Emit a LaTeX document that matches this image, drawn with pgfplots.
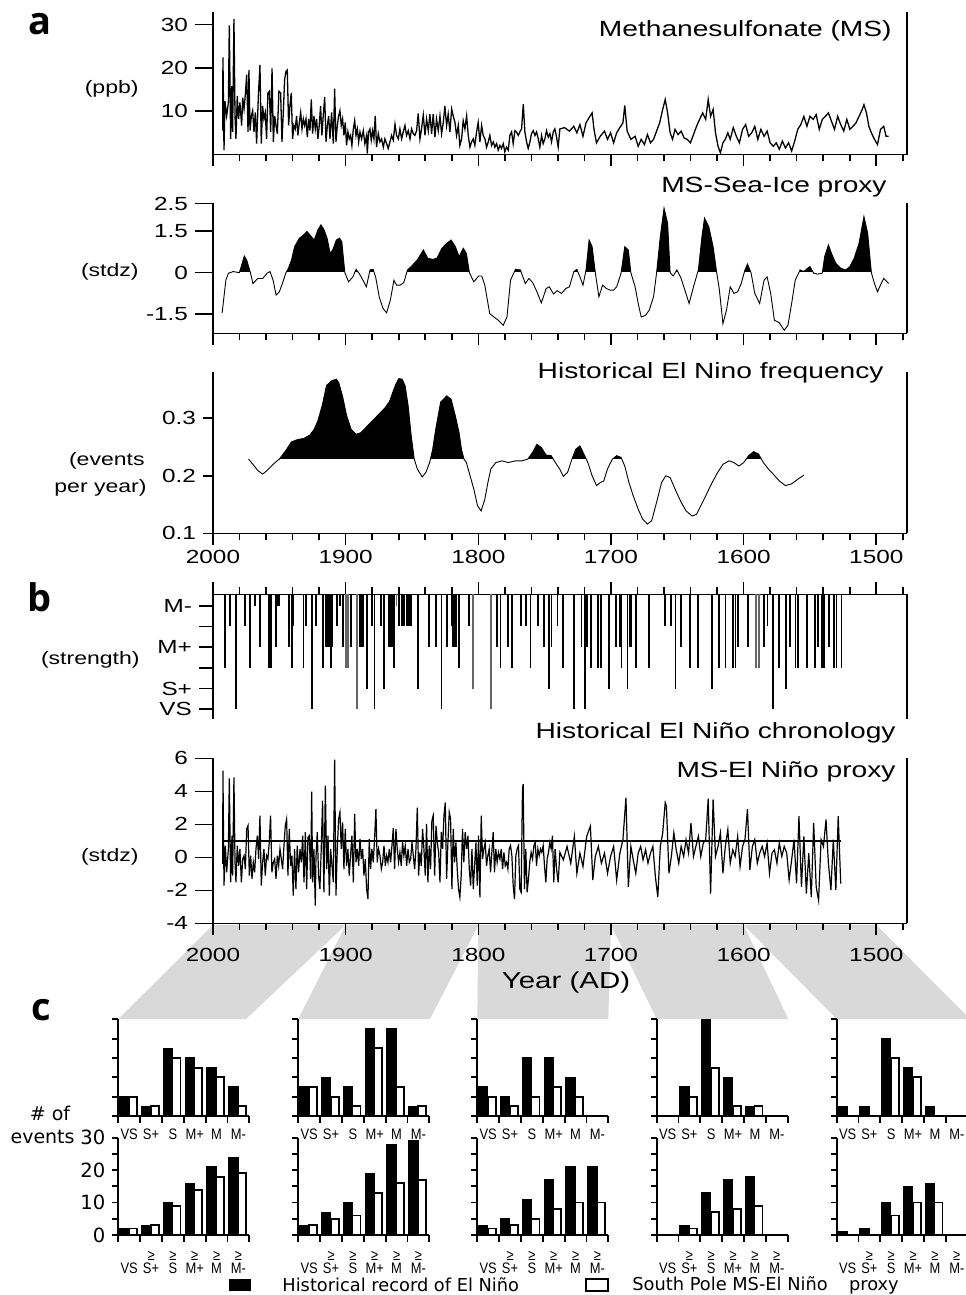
\documentclass[border=0pt]{standalone}
\usepackage{pgfplots}
\usepackage{pgfplotstable}
\pgfplotsset{compat=1.18}
\usepackage{fontspec}
\setmainfont{Liberation Sans}[FakeStretch=1.28]
\newfontfamily\narrowfont{Liberation Sans}[FakeStretch=0.85]
\newfontfamily\cfont{DejaVu Sans}
\newfontfamily\letterfont{Open Sans}

% MS sea-ice proxy (stdz)
\pgfplotstableread[row sep=\\]{
year v\\
1993.1 -1.45\\ 1990.3 -0.27\\ 1988.4 -0.02\\ 1984.7 0.04\\ 1980.1 0.00\\ 1976.4 0.60\\ 1974.6 0.46\\ 1971.8 0.00\\
1969.9 -0.39\\ 1966.2 -0.21\\ 1962.5 -0.21\\ 1959.3 -0.02\\ 1957.0 0.04\\ 1954.7 -0.27\\ 1952.4 -0.81\\ 1950.0 -0.69\\
1947.7 -0.39\\ 1945.0 0.00\\ 1943.1 0.16\\ 1940.8 0.46\\ 1938.5 0.94\\ 1934.8 1.25\\ 1931.5 1.37\\ 1929.2 1.49\\
1926.0 1.31\\ 1923.7 1.18\\ 1920.9 1.55\\ 1918.6 1.73\\ 1916.3 1.55\\ 1914.0 1.25\\ 1911.7 0.70\\ 1909.8 0.82\\
1907.0 1.18\\ 1904.7 1.25\\ 1902.9 1.12\\ 1900.6 0.00\\ 1897.8 -0.33\\ 1894.5 -0.15\\ 1892.2 0.12\\ 1889.9 -0.02\\
1887.6 -0.21\\ 1884.4 -0.51\\ 1881.6 0.10\\ 1879.3 0.12\\ 1877.4 -0.15\\ 1874.7 -0.87\\ 1871.9 -1.29\\ 1869.1 -1.45\\
1866.3 -0.99\\ 1863.6 -0.27\\ 1861.7 -0.45\\ 1858.9 -0.45\\ 1856.2 -0.36\\ 1853.4 0.10\\ 1850.6 0.22\\ 1846.0 0.46\\
1841.4 0.82\\ 1838.1 0.52\\ 1834.4 0.48\\ 1831.2 0.52\\ 1827.5 0.88\\ 1823.8 1.06\\ 1820.5 1.18\\ 1817.3 0.94\\
1814.5 0.58\\ 1811.3 0.88\\ 1809.0 0.70\\ 1806.7 0.00\\ 1803.4 -0.33\\ 1799.7 -0.12\\ 1797.4 -0.12\\ 1795.1 -0.45\\
1791.4 -1.48\\ 1788.2 -1.60\\ 1784.9 -1.72\\ 1781.2 -1.90\\ 1778.4 -1.60\\ 1775.7 -0.27\\ 1772.0 0.12\\ 1768.3 0.10\\
1764.6 -0.39\\ 1761.8 -0.21\\ 1759.0 -0.36\\ 1755.8 -0.69\\ 1752.5 -1.09\\ 1748.8 -0.57\\ 1746.5 -0.51\\ 1743.3 -0.77\\
1740.5 -0.65\\ 1737.3 -0.75\\ 1734.0 -0.57\\ 1731.3 -0.51\\ 1728.0 0.04\\ 1725.7 0.12\\ 1723.4 -0.15\\ 1721.1 -0.45\\
1718.8 0.10\\ 1716.5 1.18\\ 1714.2 0.94\\ 1711.8 0.00\\ 1709.1 -0.87\\ 1706.3 -0.45\\ 1703.5 -0.57\\ 1700.7 -0.63\\
1698.0 -0.63\\ 1695.7 -0.51\\ 1692.4 -0.02\\ 1689.6 0.94\\ 1686.9 0.82\\ 1685.0 0.00\\ 1681.8 -0.51\\ 1679.5 -1.11\\
1677.2 -1.60\\ 1673.9 -1.54\\ 1671.1 -1.35\\ 1667.9 -0.87\\ 1665.6 0.00\\ 1662.8 1.31\\ 1660.0 2.33\\ 1657.3 1.79\\
1655.4 0.00\\ 1653.1 -0.12\\ 1650.3 0.10\\ 1647.1 -0.21\\ 1644.3 -0.63\\ 1641.1 -1.11\\ 1637.8 -0.51\\ 1634.1 0.10\\
1631.4 1.31\\ 1629.5 1.97\\ 1626.3 1.67\\ 1623.0 0.94\\ 1620.3 0.00\\ 1618.4 -0.57\\ 1615.6 -1.84\\ 1612.9 -1.35\\
1610.1 -0.51\\ 1607.3 -0.75\\ 1604.5 -0.69\\ 1601.8 -0.39\\ 1599.0 0.10\\ 1597.1 0.31\\ 1594.4 0.00\\ 1591.6 -0.75\\
1587.9 -1.11\\ 1584.6 -0.27\\ 1582.3 -0.15\\ 1579.6 -0.75\\ 1576.8 -1.72\\ 1573.1 -1.81\\ 1569.4 -2.08\\ 1566.6 -1.90\\
1563.8 -1.11\\ 1561.1 -0.27\\ 1557.4 0.10\\ 1554.6 0.04\\ 1551.8 0.16\\ 1550.0 0.22\\ 1547.2 -0.02\\ 1544.4 -0.05\\
1540.7 -0.02\\ 1538.9 0.58\\ 1536.1 1.00\\ 1533.3 0.64\\ 1530.5 0.34\\ 1526.8 0.16\\ 1523.1 0.10\\ 1519.9 0.22\\
1516.7 0.52\\ 1513.0 1.06\\ 1509.3 2.03\\ 1506.5 1.43\\ 1503.7 0.00\\ 1501.4 -0.39\\ 1499.1 -0.69\\ 1496.3 -0.39\\
1494.4 -0.21\\ 1490.7 -0.39\\
}\icedata

% historical El Nino frequency (events per year)
\pgfplotstableread[row sep=\\]{
year v\\
1973.2 0.229\\ 1969.9 0.220\\ 1966.2 0.209\\ 1962.5 0.203\\ 1959.3 0.209\\ 1954.7 0.220\\ 1950.0 0.229\\ 1945.4 0.243\\
1940.8 0.259\\ 1936.2 0.263\\ 1931.5 0.265\\ 1926.9 0.271\\ 1923.7 0.281\\ 1920.9 0.296\\ 1917.7 0.322\\ 1914.4 0.357\\
1910.7 0.365\\ 1907.0 0.368\\ 1905.2 0.362\\ 1902.4 0.339\\ 1899.2 0.304\\ 1895.9 0.281\\ 1892.2 0.272\\ 1888.5 0.275\\
1883.9 0.286\\ 1878.4 0.299\\ 1873.7 0.310\\ 1870.0 0.319\\ 1866.8 0.330\\ 1864.5 0.345\\ 1862.2 0.359\\ 1859.9 0.369\\
1857.5 0.368\\ 1855.2 0.357\\ 1852.9 0.322\\ 1850.6 0.270\\ 1848.3 0.229\\ 1846.0 0.212\\ 1842.3 0.198\\ 1839.5 0.206\\
1836.7 0.223\\ 1834.4 0.246\\ 1832.1 0.281\\ 1828.4 0.328\\ 1823.8 0.339\\ 1820.5 0.333\\ 1817.3 0.304\\ 1814.5 0.275\\
1812.7 0.246\\ 1810.8 0.229\\ 1809.0 0.223\\ 1806.2 0.200\\ 1803.4 0.177\\ 1800.6 0.148\\ 1797.9 0.139\\ 1795.1 0.159\\
1792.8 0.188\\ 1790.5 0.212\\ 1786.8 0.223\\ 1782.1 0.226\\ 1777.5 0.223\\ 1772.0 0.226\\ 1767.3 0.226\\ 1762.7 0.229\\
1759.0 0.241\\ 1755.8 0.255\\ 1752.5 0.249\\ 1748.8 0.236\\ 1745.1 0.235\\ 1741.9 0.223\\ 1738.7 0.212\\ 1735.9 0.199\\
1732.7 0.206\\ 1729.4 0.229\\ 1726.6 0.246\\ 1723.4 0.252\\ 1721.1 0.241\\ 1717.4 0.223\\ 1714.2 0.200\\ 1710.9 0.183\\
1708.1 0.188\\ 1705.4 0.191\\ 1702.6 0.212\\ 1698.9 0.229\\ 1695.7 0.235\\ 1692.4 0.232\\ 1689.6 0.217\\ 1686.4 0.188\\
1683.2 0.165\\ 1679.5 0.142\\ 1676.2 0.125\\ 1672.5 0.116\\ 1669.3 0.122\\ 1665.6 0.154\\ 1661.9 0.188\\ 1658.7 0.200\\
1655.4 0.197\\ 1651.7 0.177\\ 1647.1 0.154\\ 1643.4 0.139\\ 1638.8 0.130\\ 1635.5 0.133\\ 1632.3 0.148\\ 1628.6 0.165\\
1624.9 0.183\\ 1620.3 0.203\\ 1615.6 0.220\\ 1611.0 0.226\\ 1607.3 0.223\\ 1603.6 0.217\\ 1599.9 0.223\\ 1596.2 0.235\\
1592.5 0.242\\ 1588.8 0.238\\ 1585.1 0.223\\ 1581.4 0.212\\ 1577.7 0.203\\ 1573.1 0.191\\ 1568.5 0.183\\ 1563.8 0.186\\
1559.2 0.194\\ 1554.6 0.201\\
}\freqdata

% time axes share one x scale: 2000 at the left, 1477 at the right
\pgfplotsset{
  ts/.style={
    scale only axis, width=346.9pt, anchor=south west,
    x dir=reverse, xmin=1477, xmax=2000,
    axis x line*=bottom, axis y line*=left,
    axis line style={line width=0.8pt,-},
    tick align=outside,
    xtick={1500,1600,...,2000}, minor xtick={1480,1500,...,2000},
    xticklabels={},
    major tick length=9pt, minor tick length=3.5pt,
    xtick style={/pgfplots/major tick length=6pt},
    tick style={line width=0.8pt,black},
    tick label style={font=\fontsize{9.5}{11}\selectfont},
  },
  cst/.style={
    scale only axis, width=65.5pt, anchor=south west,
    xmin=0, xmax=6, ymin=0, clip=false,
    axis x line*=bottom, axis y line*=left,
    axis line style={line width=1pt,-},
    tick align=outside, tick style={line width=0.9pt,black},
    major tick length=3pt, minor tick length=3.5pt,
    xtick={0.5,1.5,...,5.5}, minor xtick={0,1,...,6},
    every major x tick/.append style={draw=none},
    xticklabel style={font=\narrowfont\fontsize{7.6}{6.8}\selectfont, align=center},
    yticklabels={},
  },
  ctop/.style={cst, height=48.35pt, ymax=10, ytick={0,2,...,10},
    xticklabels={VS,S+,S,M+,M,M-}},
  cbot/.style={cst, height=48.65pt, ymax=30, ytick={0,5,...,30},
    xticklabels={{\phantom{≥}\\VS},{≥\\S+},{≥\\S},{≥\\M+},{≥\\M},{≥\\M-}},
    xticklabel style={yshift=-1.5pt}},
  blk/.style={ybar, bar width=0.42, bar shift=0pt, fill=black, draw=black, line width=0.6pt},
  wht/.style={ybar, bar width=0.37, bar shift=0pt, fill=white, draw=black, line width=0.9pt},
}

\begin{document}
\begin{tikzpicture}
\path[use as bounding box] (0pt,0pt) rectangle (482.5pt,-647.5pt);

% grey wedges from the year axis down to panel c
\fill[black!15] (106.5pt,-462.5pt) -- (172.85pt,-462.5pt) -- (123pt,-509.5pt) -- (59.15pt,-509.5pt) -- cycle;
\fill[black!15] (172.85pt,-462.5pt) -- (239.2pt,-462.5pt) -- (215pt,-509.5pt) -- (149.15pt,-509.5pt) -- cycle;
\fill[black!15] (239.2pt,-462.5pt) -- (305.5pt,-462.5pt) -- (304.15pt,-509.5pt) -- (238.65pt,-509.5pt) -- cycle;
\fill[black!15] (305.5pt,-462.5pt) -- (371.85pt,-462.5pt) -- (394.15pt,-509.5pt) -- (328.35pt,-509.5pt) -- cycle;
\fill[black!15] (371.85pt,-462.5pt) -- (438.2pt,-462.5pt) -- (485pt,-509.5pt) -- (418.35pt,-509.5pt) -- cycle;

% ---------------- a: MS
\begin{axis}[ts, name=a1, at={(106.5pt,-77.25pt)}, height=71.5pt,
  ymin=0, ymax=33, ytick={10,20,30}, yticklabels={10,20,30}]
\addplot[line width=0.65pt] coordinates {
(1992.7,5.5)(1992.5,22.4)(1991.7,1.0)(1991.0,12.3)(1989.7,8.9)(1988.4,12.0)(1987.7,29.8)(1986.7,3.6)
(1985.9,15.8)(1985.2,5.2)(1984.2,31.3)(1983.4,8.9)(1982.7,3.6)(1981.7,13.5)(1980.7,8.2)(1979.7,12.0)
(1978.4,6.7)(1977.6,13.1)(1976.6,10.5)(1975.6,13.9)(1974.6,18.4)(1973.6,5.2)(1972.9,19.5)(1972.1,5.5)
(1971.1,8.9)(1970.1,10.1)(1969.1,5.2)(1968.1,9.7)(1967.1,2.5)(1965.8,13.5)(1964.6,20.7)(1963.6,2.5)
(1962.6,11.2)(1961.6,8.2)(1960.6,9.7)(1959.6,3.6)(1958.6,14.2)(1957.5,14.6)(1956.5,5.2)(1955.5,19.9)
(1954.5,2.9)(1953.5,8.9)(1952.5,6.7)(1951.5,4.8)(1950.3,14.6)(1949.0,14.2)(1948.0,2.9)(1947.0,9.7)
(1946.0,17.3)(1945.0,19.2)(1944.0,19.5)(1943.0,6.7)(1942.0,11.2)(1941.0,14.2)(1940.0,3.6)(1939.0,6.7)
(1938.0,5.9)(1937.0,8.9)(1936.0,4.4)(1934.9,7.4)(1933.9,9.7)(1932.9,5.9)(1931.9,8.2)(1930.9,6.7)
(1929.9,8.2)(1928.9,4.0)(1927.9,8.2)(1926.9,5.5)(1925.9,12.7)(1924.9,4.8)(1923.9,8.9)(1922.9,5.9)
(1921.9,8.2)(1920.9,3.6)(1919.9,6.7)(1918.9,11.2)(1917.9,4.4)(1916.9,8.9)(1915.8,13.3)(1914.8,2.9)
(1913.8,6.7)(1912.8,8.9)(1911.8,3.6)(1910.6,9.7)(1909.3,2.5)(1908.3,15.2)(1907.3,2.9)(1906.3,6.7)
(1905.3,8.9)(1904.3,10.1)(1903.3,6.7)(1902.3,8.2)(1901.3,4.4)(1900.3,7.4)(1899.3,2.1)(1898.3,5.2)
(1897.3,3.6)(1896.3,4.4)(1895.3,2.1)(1894.2,5.9)(1893.2,7.8)(1892.2,4.4)(1891.2,5.9)(1890.2,2.9)
(1889.2,5.2)(1888.0,3.6)(1886.7,5.5)(1885.5,2.5)(1884.2,4.4)(1883.7,0.2)(1882.7,5.2)(1881.7,5.9)
(1880.7,3.3)(1879.7,5.5)(1878.7,3.6)(1877.7,8.9)(1876.7,1.7)(1875.4,4.8)(1874.2,2.9)(1872.9,3.6)
(1871.6,1.7)(1870.4,3.6)(1869.1,2.5)(1867.9,1.4)(1866.6,2.9)(1865.4,4.4)(1864.1,3.3)(1862.8,7.0)
(1861.6,4.4)(1860.3,3.6)(1859.1,5.9)(1857.8,3.6)(1856.6,5.2)(1855.3,6.7)(1854.1,4.4)(1852.8,5.5)
(1851.5,3.6)(1850.3,5.9)(1849.0,4.8)(1847.8,4.4)(1846.5,5.5)(1845.3,9.5)(1844.0,3.6)(1842.8,5.9)
(1841.5,9.1)(1840.2,4.4)(1839.0,8.2)(1837.7,5.5)(1836.5,9.3)(1835.2,4.8)(1834.0,9.3)(1832.7,4.0)
(1831.5,8.2)(1830.2,5.5)(1828.9,8.9)(1827.7,4.8)(1826.4,7.4)(1825.2,11.2)(1823.9,6.7)(1822.7,9.3)
(1821.4,5.2)(1820.1,10.5)(1818.9,8.9)(1817.6,7.4)(1816.4,4.4)(1815.1,6.7)(1813.9,2.1)(1812.6,3.6)
(1811.4,7.8)(1810.1,5.9)(1808.8,8.9)(1807.6,4.4)(1806.3,1.7)(1805.1,2.9)(1803.8,3.6)(1802.6,2.1)
(1801.3,5.2)(1800.1,7.4)(1798.8,2.9)(1797.5,6.7)(1796.3,4.4)(1795.0,3.6)(1793.8,1.7)(1792.5,2.9)
(1791.3,4.4)(1790.0,2.1)(1788.7,2.9)(1787.5,1.7)(1786.2,2.5)(1785.0,1.0)(1783.7,2.1)(1782.5,1.4)
(1781.2,2.5)(1780.0,0.6)(1778.7,1.7)(1777.4,1.0)(1776.2,4.4)(1774.9,5.2)(1773.7,2.5)(1772.4,5.5)
(1771.2,5.2)(1769.9,4.4)(1768.7,5.2)(1767.4,5.9)(1766.1,11.6)(1764.9,5.2)(1763.6,2.9)(1762.4,1.4)
(1761.1,2.9)(1759.9,4.8)(1758.6,5.5)(1757.3,4.4)(1756.1,5.2)(1754.8,3.6)(1753.6,1.7)(1752.3,4.4)
(1751.1,2.5)(1749.8,3.6)(1748.6,5.5)(1747.3,4.0)(1746.0,4.8)(1744.8,2.9)(1743.5,5.2)(1742.3,5.9)
(1741.0,4.0)(1739.8,1.7)(1738.5,5.9)
(1735.0,6.2)(1731.3,5.4)(1728.0,6.5)(1725.7,5.0)(1723.4,6.9)(1721.1,4.2)(1718.8,7.3)(1716.5,8.5)
(1714.2,9.6)(1712.8,5.8)(1710.9,2.7)(1708.1,4.2)(1704.9,5.4)(1702.6,3.5)(1700.3,5.0)(1698.0,2.7)
(1695.7,5.0)(1693.3,6.2)(1691.0,7.3)(1689.6,11.3)(1687.8,5.4)(1685.0,3.5)(1681.8,4.2)(1679.5,1.9)
(1677.2,3.5)(1674.8,2.3)(1672.5,4.6)(1670.2,2.7)(1667.9,3.5)(1665.6,5.4)(1663.3,7.3)(1661.0,10.4)
(1659.1,12.7)(1657.3,9.6)(1655.4,5.0)(1653.6,3.5)(1651.7,5.8)(1649.4,4.6)(1647.1,5.4)(1644.8,3.8)
(1642.5,3.5)(1640.1,2.7)(1637.8,4.6)(1635.5,6.5)(1633.2,8.1)(1630.9,9.6)(1628.6,8.1)(1626.7,12.7)
(1624.9,8.8)(1623.0,10.4)(1621.2,5.0)(1619.3,1.9)(1617.5,0.4)(1615.6,2.7)(1613.8,3.5)(1611.9,5.0)
(1610.1,3.5)(1607.8,6.2)(1605.5,4.2)(1603.2,2.7)(1600.8,5.8)(1598.5,6.9)(1596.2,4.2)(1593.9,5.0)
(1591.6,6.5)(1589.3,3.5)(1587.0,5.8)(1584.6,4.2)(1582.3,5.4)(1580.0,2.7)(1577.7,1.9)(1575.4,2.7)
(1573.1,1.2)(1570.8,3.1)(1568.5,1.5)(1566.1,2.7)(1563.8,0.8)(1561.5,3.1)(1559.2,5.8)(1556.9,6.9)
(1554.6,8.8)(1552.3,6.5)(1550.0,8.8)(1547.6,8.1)(1545.3,9.2)(1543.0,5.8)(1540.7,8.1)(1538.4,8.8)
(1536.1,9.6)(1533.8,7.7)(1531.5,5.8)(1529.1,8.8)(1526.8,6.9)(1524.5,5.4)(1522.2,8.1)(1519.9,5.8)
(1517.6,6.5)(1515.3,7.3)(1513.0,8.8)(1510.6,10.4)(1509.3,11.5)(1507.4,9.6)(1505.6,6.5)(1503.7,5.0)
(1501.4,3.5)(1499.1,2.3)(1496.8,5.8)(1494.4,6.5)(1492.6,4.2)(1490.7,4.2)
};
\end{axis}

% ---------------- a: MS sea-ice proxy, black above 0
\begin{axis}[ts, name=a2, at={(106.5pt,-166.65pt)}, height=64.9pt,
  ymin=-2.19, ymax=2.5, ytick={-1.5,0,1.5,2.5}, yticklabels={-1.5,0,1.5,2.5}]
\begin{scope}
\clip (axis cs:2000,0.06) rectangle (axis cs:1477,2.5);
\addplot[fill=black, draw=none] table[x=year, y=v] {\icedata} \closedcycle;
\end{scope}
\addplot[line width=0.45pt] table[x=year, y=v] {\icedata};
\end{axis}

% ---------------- a: historical El Nino frequency, black above 0.23
\begin{axis}[ts, name=a3, at={(106.5pt,-266.65pt)}, height=80.8pt,
  ymin=0.1, ymax=0.381, ytick={0.1,0.2,0.3}, yticklabels={0.1,0.2,0.3},
  xticklabels={1500,1600,1700,1800,1900,2000}, major tick length=5pt]
\begin{scope}
\clip (axis cs:2000,0.23) rectangle (axis cs:1477,0.381);
\addplot[fill=black, draw=none] table[x=year, y=v] {\freqdata} \closedcycle;
\end{scope}
\addplot[line width=0.45pt] table[x=year, y=v] {\freqdata};
\end{axis}

% ---------------- b: historical chronology
\begin{axis}[ts, name=b1, at={(106.5pt,-359.5pt)}, height=62.3pt,
  axis x line*=top, ymin=-6.47, ymax=-0.45, major tick length=7pt,
  ytick={-6,-5,-4,-3,-2,-1}, yticklabels={VS,S+,,M+,,M-}]
\addplot[ycomb, line width=0.9pt] coordinates {
(1991.2,-4)(1987.2,-2)(1982.7,-6)(1975.9,-2)(1972.4,-4)(1968.3,-1)(1964.6,-3)(1957.6,-4)(1956.3,-4)(1952.8,-3)
(1951.3,-1)(1950.0,-1)(1943.0,-3)(1940.5,-4)(1939.5,-2)(1931.7,-4)(1930.0,-2)(1925.2,-6)(1922.4,-2)(1917.3,-4)
(1915.1,-3)(1913.9,-3)(1912.6,-3)(1911.3,-4)(1910.1,-3)(1906.8,-2)(1904.3,-1)(1901.8,-3)(1896.2,-3)(1889.2,-3)
(1887.9,-3)(1886.7,-3)(1884.2,-5)(1880.0,-2)(1878.2,-6)(1873.6,-2)(1871.1,-5)(1867.4,-3)(1866.1,-3)(1865.1,-3)
(1863.6,-4)(1859.8,-2)(1857.3,-2)(1855.8,-2)(1854.0,-2)(1852.5,-2)(1851.0,-2)(1845.3,-5)(1837.2,-3)(1832.0,-3)
(1827.7,-6)(1823.4,-3)(1820.1,-2)(1818.9,-3)(1817.6,-3)(1816.4,-3)(1814.4,-4)(1806.9,-2)(1785.7,-3)(1783.2,-4)
(1777.9,-3)(1774.9,-4)(1768.1,-2)(1764.1,-2)(1760.6,-4)(1754.9,-2)(1750.3,-3)(1746.6,-5)(1744.8,-3)(1740.3,-2)
(1736.0,-4)(1727.7,-6)(1722.2,-3)(1719.7,-6)(1717.9,-3)(1715.1,-4)(1709.6,-4)(1707.6,-4)(1701.3,-5)(1696.5,-3)
(1693.3,-3)(1692.0,-4)(1687.5,-5)(1685.8,-3)(1684.5,-3)(1681.0,-4)(1671.2,-4)(1659.4,-2)(1654.9,-2)(1651.3,-5)
(1647.3,-3)(1640.5,-4)(1634.3,-4)(1623.7,-5)(1618.5,-4)(1613.6,-4)(1607.9,-4)(1606.1,-4)(1604.2,-3)(1596.6,-3)
(1584.5,-3)(1582.0,-2)(1577.8,-6)(1573.5,-4)(1568.2,-5)(1565.2,-3)(1560.9,-4)(1559.0,-4)(1552.2,-4)(1546.3,-4)
(1543.9,-3)(1540.9,-4)(1539.3,-4)(1535.8,-3)(1531.8,-4)(1530.0,-4)(1526.2,-4)
};
\addplot[ycomb, line width=0.9pt, black!60] coordinates {
(1899.8,-4)(1898.5,-4)(1891.2,-6)(1861.6,-1)(1803.8,-5)(1790.5,-6)(1590.8,-4)(1588.5,-4)
};
\end{axis}

% ---------------- b: MS El Nino proxy
\begin{axis}[ts, name=b2, at={(106.5pt,-461.65pt)}, height=82.5pt,
  ymin=-4, ymax=6, ytick={-4,-2,0,2,4,6}, yticklabels={-4,-2,0,2,4,6},
  xticklabels={1500,1600,1700,1800,1900,2000}]
\addplot[line width=0.6pt] coordinates {
(1992.7,-0.40)(1992.5,5.25)(1991.7,-1.72)(1990.7,0.71)(1989.7,-0.91)(1988.4,0.51)(1987.7,4.79)(1986.7,-1.52)
(1985.7,1.31)(1985.2,-1.11)(1984.2,4.85)(1983.4,-0.30)(1982.7,-1.52)(1981.7,0.71)(1980.7,-0.51)(1979.7,0.51)
(1978.6,-1.52)(1977.6,-0.10)(1976.6,0.10)(1975.6,-0.71)(1974.6,1.72)(1973.6,1.92)(1972.6,-1.11)(1971.6,0.10)
(1970.6,-1.31)(1969.6,-0.30)(1968.6,-0.91)(1967.6,0.51)(1966.6,1.31)(1965.6,-0.10)(1964.6,2.53)(1963.6,-1.72)
(1962.6,-0.30)(1961.6,0.51)(1960.6,-1.11)(1959.6,0.10)(1958.6,-0.10)(1957.6,0.91)(1956.6,2.53)(1955.6,-0.91)
(1954.5,-0.30)(1953.5,-0.10)(1952.5,-1.31)(1951.5,0.10)(1950.5,-0.51)(1949.5,0.51)(1948.5,-0.10)(1947.5,-0.71)
(1946.5,0.71)(1945.5,1.92)(1944.5,2.32)(1943.5,-1.11)(1942.5,1.72)(1941.5,-0.51)(1940.5,0.10)(1939.5,-2.32)
(1938.5,0.51)(1937.5,-1.92)(1936.5,0.71)(1935.5,-0.91)(1934.4,0.51)(1933.4,-0.30)(1932.4,1.31)(1931.4,-1.52)
(1930.4,1.52)(1929.4,-1.92)(1928.4,1.21)(1927.4,1.31)(1926.4,-1.31)(1925.6,3.98)(1924.9,-1.52)(1923.9,0.51)
(1922.9,-2.93)(1922.4,-0.10)(1921.4,1.52)(1920.4,-1.11)(1919.4,-1.92)(1918.4,0.51)(1917.4,3.43)(1916.4,-2.12)
(1915.3,4.34)(1914.3,-0.71)(1913.3,1.31)(1912.3,-2.32)(1911.3,0.51)(1910.3,-0.51)(1909.3,-1.52)(1908.3,5.92)
(1907.3,-2.32)(1906.3,0.51)(1905.3,2.32)(1904.3,2.73)(1903.3,0.51)(1902.3,2.12)(1901.3,-0.71)(1900.3,1.72)
(1899.3,-0.51)(1898.3,0.51)(1897.3,-1.11)(1896.3,0.10)(1895.3,1.31)(1894.2,-1.52)(1893.2,2.63)(1892.2,-0.30)
(1891.2,0.51)(1890.2,-0.51)(1889.2,1.11)(1888.2,-0.10)(1887.2,0.51)(1886.2,-1.11)(1885.2,-0.10)(1884.2,-1.92)
(1883.2,-2.53)(1882.2,1.11)(1881.2,-0.71)(1880.2,0.51)(1879.2,-0.30)(1878.2,1.11)(1877.2,2.93)(1876.2,-0.30)
(1875.2,0.51)(1874.1,0.10)(1873.1,-0.71)(1872.1,-0.30)(1871.1,0.71)(1870.1,-0.51)(1869.1,0.10)(1868.1,-0.30)
(1867.1,0.51)(1866.1,-0.30)(1865.1,0.71)(1864.1,1.76)(1863.1,-0.71)(1862.1,1.72)(1861.1,0.51)(1860.1,-0.30)
(1859.1,0.30)(1858.1,-0.51)(1857.1,0.91)(1856.1,0.10)(1855.1,0.71)(1854.0,-0.51)(1853.0,0.51)(1852.0,-0.30)
(1851.0,-0.10)(1850.0,0.91)(1849.0,0.10)(1848.0,-0.71)(1847.0,0.51)(1846.0,3.01)(1845.0,-1.11)(1844.0,0.30)
(1843.0,-0.51)(1842.0,1.72)(1841.0,0.51)(1840.0,-1.11)(1839.0,2.02)(1838.0,-1.52)(1837.0,0.71)(1836.0,-0.71)
(1835.0,2.22)(1834.0,2.53)(1832.9,-1.11)(1831.9,1.92)(1830.9,0.91)(1829.9,0.30)(1828.9,-1.52)(1827.9,1.52)
(1826.9,0.51)(1825.9,2.53)(1824.9,3.33)(1823.9,-1.31)(1822.9,0.91)(1821.9,2.73)(1820.9,2.32)(1819.9,-1.92)
(1818.9,1.72)(1817.9,-0.30)(1816.9,0.91)(1815.9,-0.71)(1814.9,-1.92)(1813.9,-2.42)(1812.9,-1.11)(1811.9,1.72)
(1810.9,-0.30)(1809.9,1.52)(1808.8,0.51)(1807.8,1.31)(1806.8,-0.71)(1805.8,-1.72)(1804.8,0.51)(1803.8,-1.92)
(1802.8,-0.51)(1801.8,0.91)(1800.8,-1.72)(1799.8,1.31)(1798.8,-2.42)(1797.8,2.53)(1796.8,-0.10)(1795.8,0.51)
(1794.8,0.91)(1793.8,-0.51)(1792.8,0.10)(1791.8,0.51)(1790.8,-0.91)(1789.8,0.30)(1788.8,1.52)(1787.8,-0.91)
(1786.8,0.51)(1785.8,-0.30)(1784.8,0.30)(1783.7,-0.10)(1782.7,0.51)(1781.7,-0.71)(1780.7,0.30)(1779.7,-0.51)
(1778.7,-0.30)(1777.7,-0.71)(1776.7,0.51)(1775.7,0.71)(1774.7,0.10)(1773.7,-1.72)(1772.7,-2.53)(1771.7,0.10)
(1770.7,0.51)(1769.7,0.71)(1768.7,-1.92)(1767.7,-2.12)(1766.7,4.14)(1766.2,4.44)(1765.2,-1.92)(1764.2,0.51)
(1763.2,-2.12)(1762.2,-1.31)(1761.2,-0.30)(1760.2,0.30)(1759.1,-0.10)(1758.1,0.71)(1757.1,0.91)(1756.1,-0.51)
(1755.1,0.51)(1754.1,0.10)(1753.1,0.51)(1752.1,0.30)(1751.1,0.71)(1750.1,-0.51)(1749.1,-1.52)(1748.1,-0.10)
(1747.1,0.30)(1746.1,0.91)(1745.1,0.51)(1744.1,1.31)(1743.1,-1.52)(1742.1,0.51)(1741.0,-0.71)(1739.8,-1.52)
(1738.5,0.30)
(1735.9,-0.16)(1733.1,0.66)(1730.3,-0.36)(1727.6,1.27)(1725.7,-0.97)(1723.4,0.25)(1721.1,-0.56)(1718.3,1.27)
(1715.5,1.89)(1713.7,-1.38)(1711.8,0.05)(1709.5,0.66)(1707.2,-0.36)(1704.9,0.25)(1702.6,-0.97)(1700.3,0.05)
(1698.0,0.66)(1695.7,-1.38)(1693.3,0.25)(1691.0,1.07)(1688.7,3.61)(1686.9,-1.79)(1685.0,0.66)(1683.2,-0.16)
(1681.3,-0.97)(1679.5,0.25)(1677.6,0.66)(1675.8,-0.16)(1673.9,0.46)(1672.1,-0.36)(1670.2,0.25)(1668.4,0.66)
(1666.5,-1.18)(1664.7,-2.41)(1662.8,0.66)(1661.0,1.48)(1659.1,3.31)(1658.2,3.10)(1656.3,-0.97)(1654.5,0.05)
(1652.6,1.48)(1650.8,0.46)(1648.9,-0.36)(1647.1,0.66)(1645.2,0.05)(1643.4,1.07)(1641.5,0.25)(1639.7,2.09)
(1637.8,0.05)(1636.0,0.66)(1634.1,1.27)(1632.3,0.05)(1630.4,0.87)(1628.6,1.07)(1626.7,3.55)(1624.9,-2.20)
(1623.0,3.51)(1621.2,0.05)(1619.3,0.66)(1617.5,1.48)(1615.6,-0.97)(1613.8,0.66)(1611.9,1.68)(1610.1,-0.36)
(1608.2,0.46)(1606.4,0.05)(1604.5,1.27)(1602.7,-0.56)(1600.8,0.66)(1599.0,1.07)(1597.1,2.92)(1595.3,-0.77)
(1593.4,0.66)(1591.6,1.07)(1589.7,-0.36)(1587.9,0.25)(1586.0,0.66)(1584.2,0.05)(1582.3,0.87)(1580.5,-0.97)
(1578.6,0.25)(1576.8,0.46)(1574.9,-0.36)(1573.1,0.87)(1571.2,0.05)(1569.4,0.66)(1567.5,0.25)(1565.7,-1.38)
(1563.8,-0.16)(1562.0,1.07)(1560.1,-1.58)(1558.3,2.49)(1556.4,-1.79)(1554.6,1.27)(1552.7,-2.20)(1550.9,0.25)
(1549.0,-2.41)(1547.2,2.08)(1545.3,-1.79)(1543.5,-2.61)(1541.6,1.07)(1539.8,0.66)(1537.9,2.29)(1536.1,-0.36)
(1534.2,-1.99)(1532.4,1.07)(1530.5,-1.99)(1528.7,2.49)(1526.8,-1.59)
};
\addplot[line width=1.1pt] coordinates {(1993,1) (1526.8,1)};
\end{axis}

% right-hand frame lines
\foreach \n in {a1,a2,a3,b1,b2}
  \draw[line width=0.8pt] (\n.north east) -- (\n.south east);

% panel texts
\node[anchor=east, inner sep=0pt, font=\fontsize{11}{13}\selectfont] at (446pt,-15.25pt) {Methanesulfonate (MS)};
\node[anchor=east, inner sep=0pt, font=\fontsize{11}{13}\selectfont] at (443.5pt,-93.5pt) {MS-Sea-Ice proxy};
\node[anchor=east, inner sep=0pt, font=\fontsize{11}{13}\selectfont] at (442pt,-186.5pt) {Historical El Nino frequency};
\node[anchor=east, inner sep=0pt, font=\fontsize{11}{13}\selectfont] at (448pt,-366.5pt) {Historical El Niño chronology};
\node[anchor=east, inner sep=0pt, font=\fontsize{11}{13}\selectfont] at (448pt,-386pt) {MS-El Niño proxy};

\node[anchor=east, inner sep=0pt, font=\fontsize{9}{11}\selectfont] at (69.5pt,-44.5pt) {(ppb)};
\node[anchor=east, inner sep=0pt, font=\fontsize{9}{11}\selectfont] at (69.5pt,-136pt) {(stdz)};
\node[anchor=east, inner sep=0pt, font=\fontsize{9}{11}\selectfont] at (72.5pt,-230.5pt) {(events};
\node[anchor=east, inner sep=0pt, font=\fontsize{9}{11}\selectfont] at (73.5pt,-244pt) {per year)};
\node[anchor=east, inner sep=0pt, font=\fontsize{9}{11}\selectfont] at (70pt,-330pt) {(strength)};
\node[anchor=east, inner sep=0pt, font=\fontsize{9}{11}\selectfont] at (69.5pt,-428.5pt) {(stdz)};
\node[inner sep=0pt, font=\fontsize{11.5}{13}\selectfont] at (283pt,-491.5pt) {Year (AD)};

\node[inner sep=0pt, font=\letterfont\bfseries\fontsize{19}{19}\selectfont] at (20pt,-12pt) {a};
\node[inner sep=0pt, font=\letterfont\bfseries\fontsize{19}{19}\selectfont] at (20pt,-298.5pt) {b};
\node[inner sep=0pt, font=\letterfont\bfseries\fontsize{19}{19}\selectfont] at (20.5pt,-505pt) {c};

% ---------------- c: event counts per century
% 2000-1900
\begin{axis}[ctop, at={(59.15pt,-558pt)}]
\addplot[blk] coordinates {(0.27,2)(1.27,1)(2.27,7)(3.27,6)(4.27,5)(5.27,3)};
\addplot[wht] coordinates {(0.665,2)(1.665,1)(2.665,6)(3.665,5)(4.665,4)(5.665,1)};
\end{axis}
\begin{axis}[cbot, at={(59.15pt,-617.5pt)}, yticklabels={0,,10,,20,,30},
  yticklabel style={font=\cfont\fontsize{9.8}{11}\selectfont}]
\addplot[blk] coordinates {(0.27,2)(1.27,3)(2.27,10)(3.27,16)(4.27,21)(5.27,24)};
\addplot[wht] coordinates {(0.665,2)(1.665,3)(2.665,9)(3.665,14)(4.665,18)(5.665,19)};
\end{axis}
% 1900-1800
\begin{axis}[ctop, at={(149.15pt,-558pt)}]
\addplot[blk] coordinates {(0.27,3)(1.27,4)(2.27,3)(3.27,9)(4.27,9)(5.27,1)};
\addplot[wht] coordinates {(0.665,3)(1.665,2)(2.665,1)(3.665,7)(4.665,3)(5.665,1)};
\end{axis}
\begin{axis}[cbot, at={(149.15pt,-617.5pt)}]
\addplot[blk] coordinates {(0.27,3)(1.27,7)(2.27,10)(3.27,19)(4.27,28)(5.27,29)};
\addplot[wht] coordinates {(0.665,3)(1.665,5)(2.665,6)(3.665,13)(4.665,16)(5.665,17)};
\end{axis}
% 1800-1700
\begin{axis}[ctop, at={(238.65pt,-558pt)}]
\addplot[blk] coordinates {(0.27,3)(1.27,2)(2.27,6)(3.27,6)(4.27,4)};
\addplot[wht] coordinates {(0.665,2)(1.665,1)(2.665,2)(3.665,3)(4.665,2)};
\end{axis}
\begin{axis}[cbot, at={(238.65pt,-617.5pt)}]
\addplot[blk] coordinates {(0.27,3)(1.27,5)(2.27,11)(3.27,17)(4.27,21)(5.27,21)};
\addplot[wht] coordinates {(0.665,2)(1.665,3)(2.665,5)(3.665,8)(4.665,10)(5.665,10)};
\end{axis}
% 1700-1600
\begin{axis}[ctop, at={(328.35pt,-558pt)}]
\addplot[blk] coordinates {(1.27,3)(2.27,10)(3.27,4)(4.27,1)};
\addplot[wht] coordinates {(1.665,2)(2.665,5)(3.665,1)(4.665,1)};
\end{axis}
\begin{axis}[cbot, at={(328.35pt,-617.5pt)}]
\addplot[blk] coordinates {(1.27,3)(2.27,13)(3.27,17)(4.27,18)};
\addplot[wht] coordinates {(1.665,2)(2.665,7)(3.665,8)(4.665,9)};
\end{axis}
% 1600-1500
\begin{axis}[ctop, at={(418.35pt,-558pt)}]
\addplot[blk] coordinates {(0.27,1)(1.27,1)(2.27,8)(3.27,5)(4.27,1)};
\addplot[wht] coordinates {(2.665,6)(3.665,4)};
\end{axis}
\begin{axis}[cbot, at={(418.35pt,-617.5pt)}]
\addplot[blk] coordinates {(0.27,1)(1.27,2)(2.27,10)(3.27,15)(4.27,16)};
\addplot[wht] coordinates {(2.665,6)(3.665,10)(4.665,10)};
\end{axis}

\node[inner sep=0pt, font=\cfont\fontsize{9.5}{11}\selectfont] at (25pt,-556.5pt) {\# of};
\node[anchor=east, inner sep=0pt, font=\cfont\fontsize{9.5}{11}\selectfont] at (37.5pt,-568.5pt) {events};

% legend
\fill[black] (114.5pt,-639.5pt) rectangle (125.5pt,-645.5pt);
\node[anchor=west, inner sep=0pt, font=\cfont\fontsize{8.9}{10}\selectfont] at (141pt,-642.5pt) {Historical record of El Niño};
\draw[line width=0.8pt, fill=white] (293pt,-639.5pt) rectangle (304pt,-645.5pt);
\node[anchor=west, inner sep=0pt, font=\cfont\fontsize{8.9}{10}\selectfont] at (316pt,-642.5pt) {South Pole MS-El Niño\hspace{1.2em}proxy};
\end{tikzpicture}
\end{document}
